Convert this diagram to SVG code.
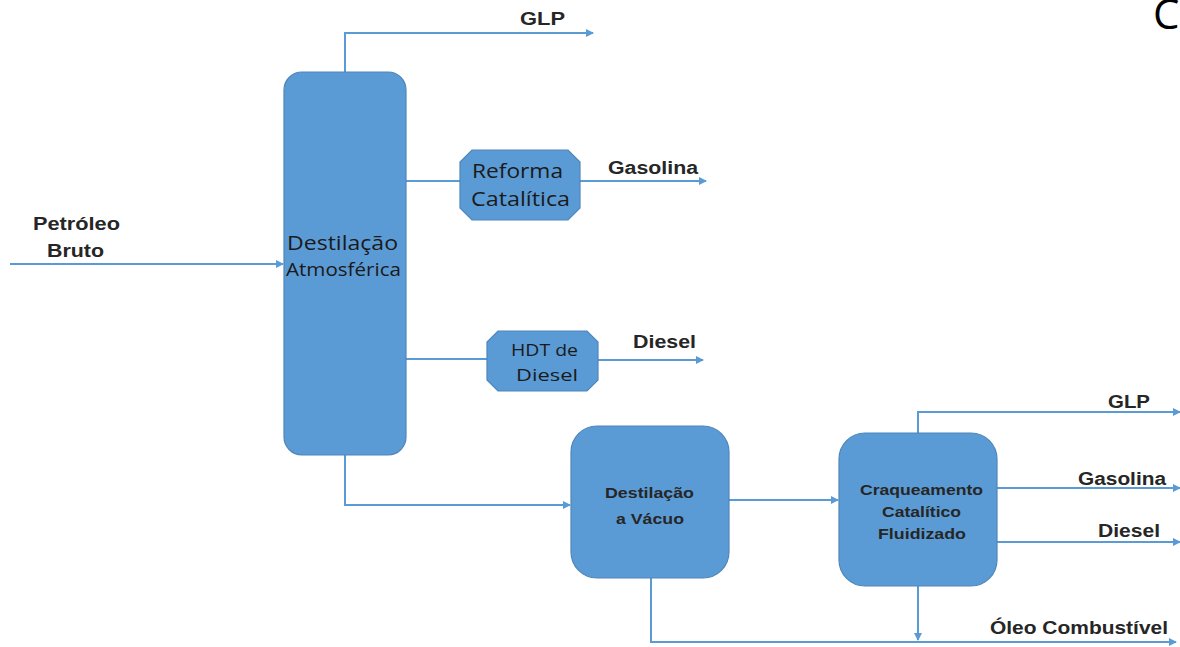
<svg xmlns="http://www.w3.org/2000/svg" width="1180" height="647" viewBox="0 0 1180 647">
<style>
.node{fill:#5B9BD5;stroke:#4F86BA;stroke-width:1.2}
.ln{fill:none;stroke:#5B9BD5;stroke-width:2}
.lbl{font-family:"Liberation Sans",Arial,sans-serif;font-weight:bold;font-size:18px;fill:#262626}
.reg{font-family:"Open Sans","Noto Sans",sans-serif;fill:#1a1a1a}
.bld{font-family:"Liberation Sans",Arial,sans-serif;font-weight:bold;font-size:15px;fill:#262626}
</style>
<defs>
<marker id="ar" markerWidth="8" markerHeight="8" refX="7" refY="4" orient="auto" markerUnits="userSpaceOnUse">
<path d="M0,0 L8,4 L0,8 z" fill="#5B9BD5"/>
</marker>
</defs>
<rect width="1180" height="647" fill="#fff"/>
<g id="connectors">
<path class="ln" d="M345,72 V33 H593" marker-end="url(#ar)"/>
<path class="ln" d="M10,264 H283" marker-end="url(#ar)"/>
<path class="ln" d="M406,181 H460"/>
<path class="ln" d="M580,181 H706" marker-end="url(#ar)"/>
<path class="ln" d="M406,359 H487"/>
<path class="ln" d="M598,360 H703" marker-end="url(#ar)"/>
<path class="ln" d="M345,455 V505 H570" marker-end="url(#ar)"/>
<path class="ln" d="M729,500 H838" marker-end="url(#ar)"/>
<path class="ln" d="M918,433 V412 H1180" marker-end="url(#ar)"/>
<path class="ln" d="M997,488 H1180" marker-end="url(#ar)"/>
<path class="ln" d="M997,542 H1180" marker-end="url(#ar)"/>
<path class="ln" d="M918,586 V640" marker-end="url(#ar)"/>
<path class="ln" d="M651,578 V642 H1176" marker-end="url(#ar)"/>
</g>
<g id="atm">
<rect class="node" x="284" y="72" width="122" height="383" rx="18"/>
<text class="reg" x="287" y="250" font-size="20" textLength="111" lengthAdjust="spacingAndGlyphs">Destilação</text>
<text class="reg" x="286" y="276" font-size="18" textLength="115" lengthAdjust="spacingAndGlyphs">Atmosférica</text>
</g>
<g id="reforma">
<path class="node" d="M472,150 H568 L580,162 V208 L568,220 H472 L460,208 V162 Z"/>
<text class="reg" x="472" y="178" font-size="20" textLength="91" lengthAdjust="spacingAndGlyphs">Reforma</text>
<text class="reg" x="471" y="206" font-size="20" textLength="99" lengthAdjust="spacingAndGlyphs">Catalítica</text>
</g>
<g id="hdt">
<path class="node" d="M498,331 H587 L598,342 V380 L587,391 H498 L487,380 V342 Z"/>
<text class="reg" x="511" y="356" font-size="17" textLength="67" lengthAdjust="spacingAndGlyphs">HDT de</text>
<text class="reg" x="516" y="381" font-size="17" textLength="62" lengthAdjust="spacingAndGlyphs">Diesel</text>
</g>
<g id="vacuo">
<rect class="node" x="571" y="426" width="158" height="152" rx="26"/>
<text class="bld" x="605" y="498" textLength="89" lengthAdjust="spacingAndGlyphs">Destilação</text>
<text class="bld" x="616" y="524" textLength="68" lengthAdjust="spacingAndGlyphs">a Vácuo</text>
</g>
<g id="fcc">
<rect class="node" x="839" y="433" width="158" height="153" rx="26"/>
<text class="bld" x="860" y="495" textLength="123" lengthAdjust="spacingAndGlyphs">Craqueamento</text>
<text class="bld" x="882" y="517" textLength="79" lengthAdjust="spacingAndGlyphs">Catalítico</text>
<text class="bld" x="878" y="539" textLength="88" lengthAdjust="spacingAndGlyphs">Fluidizado</text>
</g>
<g id="labels">
<text class="lbl" x="520" y="25" textLength="45" lengthAdjust="spacingAndGlyphs">GLP</text>
<text class="lbl" x="608" y="174" textLength="90" lengthAdjust="spacingAndGlyphs">Gasolina</text>
<text class="lbl" x="633" y="348" textLength="63" lengthAdjust="spacingAndGlyphs">Diesel</text>
<text class="lbl" x="33" y="230" textLength="87" lengthAdjust="spacingAndGlyphs">Petróleo</text>
<text class="lbl" x="47" y="257" textLength="57" lengthAdjust="spacingAndGlyphs">Bruto</text>
<text class="lbl" x="1108" y="408" textLength="42" lengthAdjust="spacingAndGlyphs">GLP</text>
<text class="lbl" x="1078" y="485" textLength="88" lengthAdjust="spacingAndGlyphs">Gasolina</text>
<text class="lbl" x="1098" y="537" textLength="62" lengthAdjust="spacingAndGlyphs">Diesel</text>
<text class="lbl" x="990" y="634" textLength="178" lengthAdjust="spacingAndGlyphs">Óleo Combustível</text>
<text x="1153" y="29" font-family="'Open Sans','Noto Sans',sans-serif" font-size="42" fill="#000">C</text>
</g>
</svg>
